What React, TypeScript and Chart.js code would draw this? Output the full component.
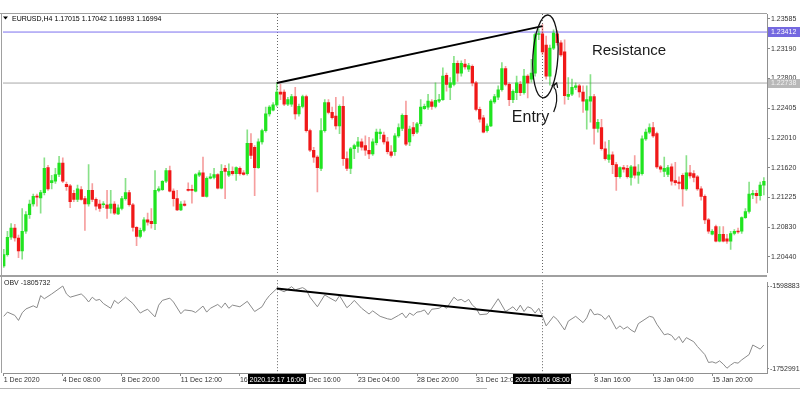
import React, { useEffect, useRef } from "react";
import { Chart, registerables } from "chart.js";
Chart.register(...registerables);

const FONT = '"Liberation Sans", Arial, sans-serif';

// EURUSD H4 candles (bar 0 = 1 Dec 2020 16:00)
const opens = [
  1.2032, 1.2047, 1.2070, 1.2082, 1.2069, 1.2052, 1.2078, 1.2100, 1.2114, 1.2124,
  1.2122, 1.2129, 1.2162, 1.2142, 1.2144, 1.2153, 1.2168, 1.2140, 1.2138, 1.2128,
  1.2120, 1.2133, 1.2121, 1.2114, 1.2132, 1.2120, 1.2114, 1.2113, 1.2113, 1.2108,
  1.2114, 1.2101, 1.2108, 1.2121, 1.2129, 1.2113, 1.2083, 1.2071, 1.2079, 1.2093,
  1.2091, 1.2088, 1.2132, 1.2133, 1.2144, 1.2158, 1.2131, 1.2121, 1.2106, 1.2114,
  1.2133, 1.2133, 1.2131, 1.2152, 1.2155, 1.2124, 1.2148, 1.2149, 1.2153, 1.2135,
  1.2161, 1.2152, 1.2157, 1.2154, 1.2161, 1.2155, 1.2154, 1.2194, 1.2189, 1.2162,
  1.2196, 1.2211, 1.2233, 1.2238, 1.2245, 1.2262, 1.2262, 1.2246, 1.2246, 1.2256,
  1.2233, 1.2243, 1.2256, 1.2211, 1.2185, 1.2176, 1.2161, 1.2211, 1.2248, 1.2235,
  1.2230, 1.2217, 1.2243, 1.2174, 1.2161, 1.2187, 1.2190, 1.2196, 1.2191, 1.2185,
  1.2180, 1.2195, 1.2207, 1.2205, 1.2196, 1.2183, 1.2183, 1.2204, 1.2214, 1.2231,
  1.2196, 1.2215, 1.2209, 1.2220, 1.2240, 1.2242, 1.2249, 1.2243, 1.2250, 1.2252,
  1.2284, 1.2268, 1.2272, 1.2300, 1.2287, 1.2299, 1.2292, 1.2296, 1.2274, 1.2239,
  1.2228, 1.2211, 1.2217, 1.2249, 1.2255, 1.2265, 1.2293, 1.2272, 1.2252, 1.2261,
  1.2272, 1.2261, 1.2283, 1.2279, 1.2287, 1.2338, 1.2339, 1.2324, 1.2283, 1.2320,
  1.2339, 1.2327, 1.2315, 1.2256, 1.2259, 1.2268, 1.2270, 1.2262, 1.2238, 1.2250,
  1.2256, 1.2214, 1.2215, 1.2187, 1.2173, 1.2179, 1.2166, 1.2150, 1.2162, 1.2161,
  1.2149, 1.2163, 1.2152, 1.2154, 1.2200, 1.2209, 1.2215, 1.2207, 1.2163, 1.2157,
  1.2153, 1.2163, 1.2145, 1.2143, 1.2152, 1.2134, 1.2155, 1.2154, 1.2150, 1.2134,
  1.2124, 1.2093, 1.2074, 1.2084, 1.2065, 1.2074, 1.2068, 1.2065, 1.2075, 1.2078,
  1.2078, 1.2096, 1.2104, 1.2126, 1.2128, 1.2125, 1.2139,
];
const highs = [
  1.2054, 1.2078, 1.2088, 1.2087, 1.2073, 1.2108, 1.2104, 1.2119, 1.2127, 1.2127,
  1.2132, 1.2175, 1.2165, 1.2152, 1.2161, 1.2177, 1.2175, 1.2143, 1.2140, 1.2132,
  1.2139, 1.2137, 1.2124, 1.2166, 1.2141, 1.2122, 1.2119, 1.2117, 1.2132, 1.2132,
  1.2117, 1.2113, 1.2124, 1.2148, 1.2132, 1.2115, 1.2084, 1.2082, 1.2096, 1.2102,
  1.2108, 1.2158, 1.2137, 1.2145, 1.2161, 1.2164, 1.2134, 1.2132, 1.2117, 1.2118,
  1.2142, 1.2139, 1.2154, 1.2158, 1.2176, 1.2150, 1.2154, 1.2161, 1.2154, 1.2166,
  1.2165, 1.2167, 1.2163, 1.2163, 1.2163, 1.2158, 1.2212, 1.2207, 1.2191, 1.2200,
  1.2213, 1.2242, 1.2244, 1.2248, 1.2274, 1.2272, 1.2265, 1.2255, 1.2259, 1.2268,
  1.2246, 1.2258, 1.2258, 1.2213, 1.2189, 1.2178, 1.2227, 1.2252, 1.2252, 1.2242,
  1.2255, 1.2245, 1.2256, 1.2183, 1.2189, 1.2193, 1.2202, 1.2200, 1.2204, 1.2202,
  1.2200, 1.2213, 1.2213, 1.2209, 1.2202, 1.2191, 1.2207, 1.2220, 1.2233, 1.2250,
  1.2217, 1.2222, 1.2222, 1.2252, 1.2246, 1.2259, 1.2252, 1.2274, 1.2259, 1.2294,
  1.2287, 1.2281, 1.2309, 1.2303, 1.2303, 1.2305, 1.2300, 1.2298, 1.2276, 1.2242,
  1.2231, 1.2220, 1.2252, 1.2259, 1.2270, 1.2301, 1.2296, 1.2274, 1.2265, 1.2283,
  1.2276, 1.2292, 1.2285, 1.2305, 1.2340, 1.2345, 1.2351, 1.2336, 1.2324, 1.2344,
  1.2343, 1.2330, 1.2331, 1.2281, 1.2279, 1.2274, 1.2272, 1.2270, 1.2270, 1.2285,
  1.2259, 1.2226, 1.2226, 1.2196, 1.2198, 1.2183, 1.2169, 1.2163, 1.2165, 1.2165,
  1.2165, 1.2178, 1.2166, 1.2204, 1.2213, 1.2220, 1.2222, 1.2209, 1.2165, 1.2176,
  1.2165, 1.2167, 1.2169, 1.2150, 1.2154, 1.2178, 1.2165, 1.2158, 1.2152, 1.2137,
  1.2126, 1.2095, 1.2080, 1.2086, 1.2084, 1.2084, 1.2074, 1.2078, 1.2080, 1.2082,
  1.2097, 1.2108, 1.2143, 1.2132, 1.2132, 1.2143, 1.2149,
];
const lows = [
  1.2030, 1.2045, 1.2067, 1.2065, 1.2043, 1.2041, 1.2075, 1.2095, 1.2111, 1.2111,
  1.2102, 1.2126, 1.2132, 1.2134, 1.2141, 1.2150, 1.2142, 1.2132, 1.2109, 1.2117,
  1.2117, 1.2119, 1.2079, 1.2111, 1.2117, 1.2106, 1.2104, 1.2109, 1.2095, 1.2102,
  1.2100, 1.2100, 1.2106, 1.2119, 1.2111, 1.2078, 1.2059, 1.2069, 1.2077, 1.2086,
  1.2082, 1.2080, 1.2130, 1.2132, 1.2142, 1.2130, 1.2111, 1.2105, 1.2105, 1.2111,
  1.2131, 1.2115, 1.2130, 1.2150, 1.2124, 1.2123, 1.2147, 1.2147, 1.2134, 1.2134,
  1.2121, 1.2150, 1.2152, 1.2145, 1.2152, 1.2152, 1.2152, 1.2174, 1.2125, 1.2161,
  1.2193, 1.2209, 1.2230, 1.2237, 1.2243, 1.2252, 1.2244, 1.2244, 1.2243, 1.2226,
  1.2230, 1.2241, 1.2209, 1.2183, 1.2169, 1.2130, 1.2158, 1.2209, 1.2233, 1.2226,
  1.2213, 1.2207, 1.2165, 1.2158, 1.2154, 1.2174, 1.2182, 1.2185, 1.2178, 1.2174,
  1.2178, 1.2192, 1.2200, 1.2193, 1.2180, 1.2176, 1.2178, 1.2202, 1.2211, 1.2191,
  1.2191, 1.2204, 1.2207, 1.2217, 1.2239, 1.2239, 1.2239, 1.2241, 1.2248, 1.2251,
  1.2263, 1.2252, 1.2270, 1.2276, 1.2283, 1.2292, 1.2289, 1.2270, 1.2237, 1.2222,
  1.2208, 1.2209, 1.2216, 1.2247, 1.2252, 1.2263, 1.2270, 1.2244, 1.2248, 1.2252,
  1.2257, 1.2259, 1.2254, 1.2275, 1.2283, 1.2331, 1.2311, 1.2279, 1.2271, 1.2318,
  1.2324, 1.2309, 1.2246, 1.2252, 1.2257, 1.2265, 1.2255, 1.2235, 1.2213, 1.2222,
  1.2193, 1.2209, 1.2185, 1.2172, 1.2169, 1.2154, 1.2132, 1.2148, 1.2156, 1.2148,
  1.2139, 1.2148, 1.2141, 1.2152, 1.2198, 1.2207, 1.2202, 1.2161, 1.2156, 1.2150,
  1.2150, 1.2139, 1.2139, 1.2134, 1.2111, 1.2132, 1.2148, 1.2143, 1.2132, 1.2119,
  1.2088, 1.2075, 1.2073, 1.2064, 1.2064, 1.2064, 1.2062, 1.2054, 1.2073, 1.2075,
  1.2075, 1.2095, 1.2102, 1.2121, 1.2115, 1.2119, 1.2126,
];
const closes = [
  1.2047, 1.2070, 1.2082, 1.2069, 1.2052, 1.2078, 1.2100, 1.2114, 1.2124, 1.2123,
  1.2129, 1.2161, 1.2134, 1.2145, 1.2153, 1.2168, 1.2144, 1.2137, 1.2117, 1.2120,
  1.2134, 1.2120, 1.2114, 1.2132, 1.2120, 1.2111, 1.2108, 1.2114, 1.2108, 1.2114,
  1.2102, 1.2109, 1.2121, 1.2129, 1.2113, 1.2083, 1.2071, 1.2079, 1.2093, 1.2090,
  1.2088, 1.2132, 1.2134, 1.2144, 1.2158, 1.2131, 1.2121, 1.2106, 1.2114, 1.2112,
  1.2132, 1.2132, 1.2153, 1.2155, 1.2124, 1.2148, 1.2150, 1.2153, 1.2135, 1.2157,
  1.2157, 1.2157, 1.2154, 1.2162, 1.2154, 1.2153, 1.2194, 1.2178, 1.2162, 1.2196,
  1.2211, 1.2233, 1.2242, 1.2245, 1.2262, 1.2259, 1.2246, 1.2252, 1.2256, 1.2233,
  1.2243, 1.2256, 1.2211, 1.2185, 1.2176, 1.2162, 1.2211, 1.2248, 1.2235, 1.2228,
  1.2217, 1.2243, 1.2174, 1.2161, 1.2187, 1.2191, 1.2196, 1.2189, 1.2185, 1.2180,
  1.2196, 1.2209, 1.2209, 1.2196, 1.2183, 1.2178, 1.2204, 1.2215, 1.2231, 1.2193,
  1.2213, 1.2207, 1.2220, 1.2242, 1.2243, 1.2250, 1.2243, 1.2251, 1.2252, 1.2283,
  1.2272, 1.2274, 1.2300, 1.2287, 1.2300, 1.2295, 1.2297, 1.2274, 1.2239, 1.2226,
  1.2209, 1.2217, 1.2250, 1.2256, 1.2265, 1.2293, 1.2272, 1.2252, 1.2263, 1.2274,
  1.2261, 1.2283, 1.2274, 1.2287, 1.2338, 1.2339, 1.2315, 1.2283, 1.2320, 1.2340,
  1.2327, 1.2311, 1.2257, 1.2259, 1.2268, 1.2270, 1.2262, 1.2250, 1.2252, 1.2256,
  1.2214, 1.2222, 1.2187, 1.2174, 1.2179, 1.2166, 1.2150, 1.2162, 1.2160, 1.2150,
  1.2163, 1.2152, 1.2156, 1.2200, 1.2209, 1.2215, 1.2204, 1.2163, 1.2160, 1.2161,
  1.2162, 1.2144, 1.2142, 1.2141, 1.2134, 1.2155, 1.2151, 1.2149, 1.2134, 1.2124,
  1.2093, 1.2078, 1.2078, 1.2065, 1.2074, 1.2065, 1.2065, 1.2075, 1.2078, 1.2077,
  1.2096, 1.2104, 1.2127, 1.2128, 1.2125, 1.2139, 1.2144,
];

const priceTicks = [1.2044, 1.2083, 1.21225, 1.2162, 1.2201, 1.22405, 1.228, 1.2319, 1.23585];

// OBV read at the bars where the line turns
const obvBars = [
  0, 1, 3, 4, 5, 6, 8, 9, 10, 11, 13, 16, 17, 18, 21, 22, 23, 24, 25, 26, 27, 29, 30, 31, 33, 35, 37, 38, 39,
  41, 42, 43, 45, 46, 48, 49, 51, 52, 54, 55, 56, 58, 59, 60, 61, 62, 64, 66, 68, 70, 71, 72, 74, 76, 78, 79,
  81, 82, 83, 85, 87, 88, 90, 91, 93, 94, 95, 97, 99, 100, 102, 104, 105, 107, 108, 109, 110, 111, 112, 113,
  114, 115, 116, 118, 119, 120, 122, 123, 124, 125, 126, 127, 128, 129, 131, 132, 134, 136, 137, 138, 139,
  140, 141, 142, 143, 144, 145, 146, 147, 149, 150, 152, 153, 155, 157, 158, 159, 160, 161, 162, 163, 164,
  166, 167, 168, 169, 170, 171, 172, 175, 176, 177, 179, 180, 181, 182, 183, 184, 185, 187, 188, 190, 191,
  192, 193, 194, 195, 196, 197, 198, 199, 200, 202, 203, 205, 206,
];
const obvValues = [
  -1655360, -1647521, -1653578, -1663021, -1648768, -1641641, -1635762, -1639325, -1616699, -1622578,
  -1613670, -1598883, -1613670, -1619728, -1613670, -1619728, -1628636, -1619728, -1625607, -1623825,
  -1631486, -1640394, -1625607, -1631486, -1619728, -1631486, -1649302, -1645205, -1642176, -1656429,
  -1634515, -1625607, -1621509, -1628636, -1650549, -1643423, -1645205, -1648233, -1636297, -1647521,
  -1640394, -1633268, -1639325, -1630417, -1640394, -1634515, -1637544, -1627389, -1646452, -1637544,
  -1625607, -1616699, -1603693, -1609573, -1600130, -1606009, -1601912, -1606009, -1619728, -1637544,
  -1615452, -1619728, -1627389, -1616699, -1639325, -1633268, -1625607, -1640394, -1651084, -1645205,
  -1655360, -1659992, -1661239, -1653578, -1649302, -1658210, -1649302, -1653578, -1647521, -1646452,
  -1643423, -1652331, -1642176, -1640394, -1635762, -1640394, -1619728, -1625607, -1623825, -1628636,
  -1623825, -1634515, -1640394, -1652331, -1651084, -1643423, -1622578, -1646452, -1642176, -1637544,
  -1645205, -1634515, -1646452, -1637544, -1640394, -1649302, -1640394, -1655360, -1673176, -1655360,
  -1661239, -1680837, -1664268, -1655360, -1667118, -1658210, -1641641, -1652331, -1651084, -1653578,
  -1661239, -1653578, -1679055, -1673176, -1679055, -1674957, -1680837, -1684934, -1668900, -1655360,
  -1657141, -1670147, -1689745, -1687963, -1690992, -1699900, -1692773, -1704531, -1695089, -1702750,
  -1711658, -1726624, -1741411, -1740164, -1742658, -1738382, -1744440, -1752101, -1746221, -1741411,
  -1742658, -1736601, -1726624, -1708808, -1716469, -1708808,
];
const obvTicks = [-1598883, -1752991];

const labelBars = [0, 16, 32, 48, 64, 80, 96, 112, 128, 144, 160, 176, 192];
const timeLabels = [
  "1 Dec 2020", "4 Dec 08:00", "8 Dec 20:00", "11 Dec 12:00", "16 Dec 00:00", "18 Dec 16:00",
  "23 Dec 04:00", "28 Dec 20:00", "31 Dec 12:00", "6 Jan 00:00", "8 Jan 16:00", "13 Jan 04:00", "15 Jan 20:00",
];
const markerBars = [74, 146];
const markerLabels = ["2020.12.17 16:00", "2021.01.06 08:00"];
const trendBars = [74, 146];
const priceTrend = [1.2274, 1.2349];
const obvTrend = [-1603693, -1655360];
const resistanceLevel = 1.23412;
const entryLevel = 1.22738;

const X_MIN = -0.2;
const X_MAX = 206.85;
const PRICE_MIN = 1.202304;
const PRICE_MAX = 1.236505;
const OBV_MIN = -1761009;
const OBV_MAX = -1591757;

const GREEN = "#20e420";
const RED = "#f01818";
const GREEN_WICK = "rgba(40,200,40,0.55)";
const RED_WICK = "rgba(235,40,40,0.45)";
const FRAME = "#a0a0a0";

function drawVerticalMarkers(chart: any, y0: number, y1: number) {
  const ctx = chart.ctx;
  const xs = chart.scales.x;
  ctx.save();
  ctx.strokeStyle = "#666";
  ctx.lineWidth = 1;
  ctx.setLineDash([1, 2]);
  markerBars.forEach((b) => {
    const x = Math.round(xs.getPixelForValue(b)) + 0.5;
    ctx.beginPath();
    ctx.moveTo(x, y0);
    ctx.lineTo(x, y1);
    ctx.stroke();
  });
  ctx.restore();
}

const pricePlugin = {
  id: "priceOverlay",
  beforeDatasetsDraw(chart: any) {
    const a = chart.chartArea;
    drawVerticalMarkers(chart, a.top, a.bottom);
  },
  afterDraw(chart: any) {
    const ctx = chart.ctx;
    const xs = chart.scales.x;
    const ys = chart.scales.y;
    const a = chart.chartArea;
    ctx.save();
    // frame
    ctx.fillStyle = FRAME;
    ctx.fillRect(0, 13, a.right, 1);
    ctx.fillRect(1, 13, 1, 265);
    ctx.fillRect(0, 275, a.right, 2);

    // header
    ctx.fillStyle = "#000";
    ctx.beginPath();
    ctx.moveTo(3, 16.5);
    ctx.lineTo(8, 16.5);
    ctx.lineTo(5.5, 19.5);
    ctx.closePath();
    ctx.fill();
    ctx.font = `7px ${FONT}`;
    ctx.textBaseline = "alphabetic";
    ctx.textAlign = "left";
    ctx.fillText("EURUSD,H4 1.17015 1.17042 1.16993 1.16994", 12, 21);

    // level boxes on the price axis
    const yR = ys.getPixelForValue(resistanceLevel);
    ctx.fillStyle = "#7468e0";
    ctx.fillRect(a.right + 1, Math.round(yR) - 5, 33, 10);
    ctx.fillStyle = "#ffffff";
    ctx.textBaseline = "middle";
    ctx.fillText(resistanceLevel.toFixed(5), a.right + 4, Math.round(yR));
    const yE = ys.getPixelForValue(entryLevel);
    ctx.fillStyle = "#b8b8b8";
    ctx.fillRect(a.right + 1, Math.round(yE) - 4, 33, 9);
    ctx.fillStyle = "#f2f2f2";
    ctx.fillText(entryLevel.toFixed(5), a.right + 4, Math.round(yE) + 0.5);

    // ellipse around the top
    const ex = xs.getPixelForValue(146.8);
    const ey = ys.getPixelForValue(1.2309);
    ctx.strokeStyle = "#111";
    ctx.lineWidth = 1.3;
    ctx.beginPath();
    ctx.ellipse(ex, ey, 12.5, 41.5, 0.06, 0, Math.PI * 2);
    ctx.stroke();

    // arrow from Entry text up to the candle
    const ax = xs.getPixelForValue(149.3);
    const ay = ys.getPixelForValue(1.2237);
    ctx.lineWidth = 1.2;
    ctx.beginPath();
    ctx.moveTo(ax - 1, ay + 1);
    ctx.quadraticCurveTo(ax + 4, ay - 10, ax + 1, ay - 21);
    ctx.quadraticCurveTo(ax - 3, ay - 25, ax + 2, ay - 28);
    ctx.stroke();
    ctx.beginPath();
    ctx.moveTo(ax - 3, ay - 25);
    ctx.lineTo(ax + 2, ay - 28);
    ctx.lineTo(ax + 3, ay - 23);
    ctx.stroke();

    // texts
    ctx.fillStyle = "#1a1a1a";
    ctx.textBaseline = "alphabetic";
    ctx.font = `16px ${FONT}`;
    ctx.fillText("Entry", xs.getPixelForValue(137.7), ys.getPixelForValue(1.2222));
    ctx.font = `15px ${FONT}`;
    ctx.fillText("Resistance", xs.getPixelForValue(159.4), ys.getPixelForValue(1.23113));
    ctx.restore();
  },
};

const obvPlugin = {
  id: "obvOverlay",
  beforeDatasetsDraw(chart: any) {
    const a = chart.chartArea;
    drawVerticalMarkers(chart, a.top - 2, a.bottom);
  },
  afterDraw(chart: any) {
    const ctx = chart.ctx;
    const xs = chart.scales.x;
    const a = chart.chartArea;
    ctx.save();
    ctx.fillStyle = FRAME;
    ctx.fillRect(1, 0, 1, a.bottom);
    ctx.fillStyle = "#b4b4b4";
    ctx.fillRect(0, 111, 487, 1);
    ctx.fillRect(547, 111, 253, 1);

    ctx.fillStyle = "#222";
    ctx.font = `7px ${FONT}`;
    ctx.textAlign = "left";
    ctx.textBaseline = "alphabetic";
    ctx.fillText("OBV -1805732", 4, 8);

    markerBars.forEach((b, i) => {
      const x = xs.getPixelForValue(b);
      const t = markerLabels[i];
      const w = ctx.measureText(t).width + 4;
      ctx.fillStyle = "#000";
      ctx.fillRect(Math.round(x - w / 2), a.bottom + 1, Math.round(w), 10);
      ctx.fillStyle = "#fff";
      ctx.textAlign = "center";
      ctx.fillText(t, x, a.bottom + 8.5);
    });
    ctx.restore();
  },
};

export default function App() {
  const priceRef = useRef<HTMLCanvasElement | null>(null);
  const obvRef = useRef<HTMLCanvasElement | null>(null);

  useEffect(() => {
    document.body.style.margin = "0";
    const bodies = opens.map((o, i) => ({ x: i, y: [o, closes[i]] }));
    const wicks = lows.map((l, i) => ({ x: i, y: [l, highs[i]] }));
    const bodyColors = opens.map((o, i) => (closes[i] >= o ? GREEN : RED));
    const wickColors = opens.map((o, i) => (closes[i] >= o ? GREEN_WICK : RED_WICK));

    const priceChart = new Chart(priceRef.current as HTMLCanvasElement, {
      type: "bar",
      data: {
        datasets: [
          {
            type: "bar",
            data: bodies as any,
            backgroundColor: bodyColors,
            barThickness: 2.6,
            minBarLength: 1,
            grouped: false,
            borderWidth: 0,
            order: 1,
          } as any,
          {
            type: "bar",
            data: wicks as any,
            backgroundColor: wickColors,
            barThickness: 1,
            grouped: false,
            borderWidth: 0,
            order: 2,
          } as any,
          {
            type: "line",
            data: [
              { x: X_MIN, y: resistanceLevel },
              { x: X_MAX, y: resistanceLevel },
            ],
            borderColor: "#7b70ee",
            borderWidth: 1,
            pointRadius: 0,
            order: 3,
          } as any,
          {
            type: "line",
            data: [
              { x: X_MIN, y: entryLevel },
              { x: X_MAX, y: entryLevel },
            ],
            borderColor: "#a8a8a8",
            borderWidth: 1,
            pointRadius: 0,
            order: 3,
          } as any,
          {
            type: "line",
            data: trendBars.map((b, i) => ({ x: b, y: priceTrend[i] })),
            borderColor: "#000",
            borderWidth: 2,
            pointRadius: 0,
            order: 0,
          } as any,
        ],
      },
      options: {
        animation: false,
        responsive: false,
        maintainAspectRatio: false,
        layout: { padding: { left: 3, top: 14, right: 0, bottom: 3 }, autoPadding: false } as any,
        plugins: { legend: { display: false }, tooltip: { enabled: false } },
        scales: {
          x: { type: "linear", min: X_MIN, max: X_MAX, display: false, offset: false },
          y: {
            type: "linear",
            position: "right",
            min: PRICE_MIN,
            max: PRICE_MAX,
            afterBuildTicks: (s: any) => {
              s.ticks = priceTicks.map((v) => ({ value: v }));
            },
            afterFit: (s: any) => {
              s.width = 33;
            },
            grid: { drawOnChartArea: false, drawTicks: true, tickLength: 3, color: "#888" },
            border: { color: "#909090" },
            ticks: {
              autoSkip: false,
              padding: 1,
              color: "#333",
              font: { size: 7, family: FONT },
              callback: (v: any) => Number(v).toFixed(5),
            },
          },
        },
      } as any,
      plugins: [pricePlugin],
    });

    const obvChart = new Chart(obvRef.current as HTMLCanvasElement, {
      type: "line",
      data: {
        datasets: [
          {
            data: obvBars.map((b, i) => ({ x: b, y: obvValues[i] })),
            borderColor: "#8a8a8a",
            borderWidth: 1,
            pointRadius: 0,
            tension: 0,
            order: 1,
          },
          {
            data: trendBars.map((b, i) => ({ x: b, y: obvTrend[i] })),
            borderColor: "#000",
            borderWidth: 2,
            pointRadius: 0,
            order: 0,
          },
        ],
      },
      options: {
        animation: false,
        responsive: false,
        maintainAspectRatio: false,
        layout: { padding: { left: 3, top: 1, right: 0, bottom: 0 }, autoPadding: false } as any,
        plugins: { legend: { display: false }, tooltip: { enabled: false } },
        scales: {
          x: {
            type: "linear",
            min: X_MIN,
            max: X_MAX,
            offset: false,
            afterBuildTicks: (s: any) => {
              s.ticks = labelBars.map((v) => ({ value: v }));
            },
            afterFit: (s: any) => {
              s.height = 25;
            },
            grid: { drawOnChartArea: false, drawTicks: true, tickLength: 3, color: "#888" },
            border: { color: "#909090" },
            ticks: {
              autoSkip: false,
              maxRotation: 0,
              minRotation: 0,
              align: "start",
              padding: 0,
              color: "#333",
              font: { size: 7, family: FONT },
              callback: (v: any) => timeLabels[labelBars.indexOf(Number(v))] ?? "",
            },
          },
          y: {
            type: "linear",
            position: "right",
            min: OBV_MIN,
            max: OBV_MAX,
            afterBuildTicks: (s: any) => {
              s.ticks = obvTicks.map((v) => ({ value: v }));
            },
            afterFit: (s: any) => {
              s.width = 33;
            },
            grid: { drawOnChartArea: false, drawTicks: true, tickLength: 2, color: "#888" },
            border: { color: "#909090" },
            ticks: {
              autoSkip: false,
              padding: 1,
              color: "#333",
              font: { size: 7, family: FONT },
              callback: (v: any) => String(v),
            },
          },
        },
      } as any,
      plugins: [obvPlugin],
    });

    return () => {
      priceChart.destroy();
      obvChart.destroy();
    };
  }, []);

  return (
    <div style={{ position: "relative", width: 800, height: 398, background: "#fff", overflow: "hidden" }}>
      <canvas
        ref={priceRef}
        width={800}
        height={278}
        style={{ position: "absolute", left: 0, top: 0, width: 800, height: 278 }}
      />
      <canvas
        ref={obvRef}
        width={800}
        height={121}
        style={{ position: "absolute", left: 0, top: 277, width: 800, height: 121 }}
      />
    </div>
  );
}
